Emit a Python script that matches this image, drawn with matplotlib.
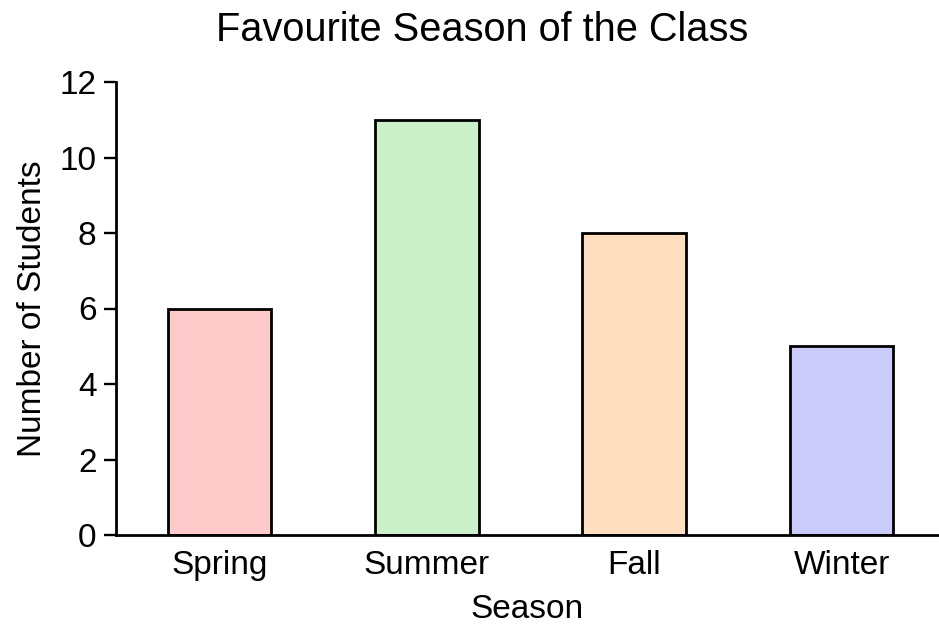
import matplotlib.pyplot as plt

plt.rcParams['font.family'] = ['Liberation Sans', 'DejaVu Sans']

seasons = ["Spring", "Summer", "Fall", "Winter"]
students = [6, 11, 8, 5]
colors = ["#ffcaca", "#caf0ca", "#ffdfc0", "#cbcbf9"]

fig = plt.figure(figsize=(9.39, 6.25), dpi=100)
ax = fig.add_axes([116 / 939, 1 - 535 / 625, 1 - 116 / 939, (535 - 82) / 625])

x = range(len(seasons))
ax.bar(x, students, width=0.5, color=colors, edgecolor="black", linewidth=2.0)

ax.set_xlim(-0.5, 3.47)
ax.set_ylim(0, 12)
ax.set_yticks([0, 2, 4, 6, 8, 10, 12])
ax.set_xticks(list(x))
ax.set_xticklabels(seasons)

for side in ["top", "right"]:
    ax.spines[side].set_visible(False)
for side in ["left", "bottom"]:
    ax.spines[side].set_linewidth(2.0)

ax.tick_params(axis="y", length=9, width=1.7, pad=5, labelsize=24)
ax.tick_params(axis="x", length=0, pad=11, labelsize=24)

ax.set_xlabel("Season", fontsize=24, labelpad=9)
ax.set_ylabel("Number of Students", fontsize=24, labelpad=8)

fig.text(482 / 939, 1 - 30 / 625, "Favourite Season of the Class",
         fontsize=28.6, ha="center", va="center")

fig.savefig("out.png", dpi=100)
